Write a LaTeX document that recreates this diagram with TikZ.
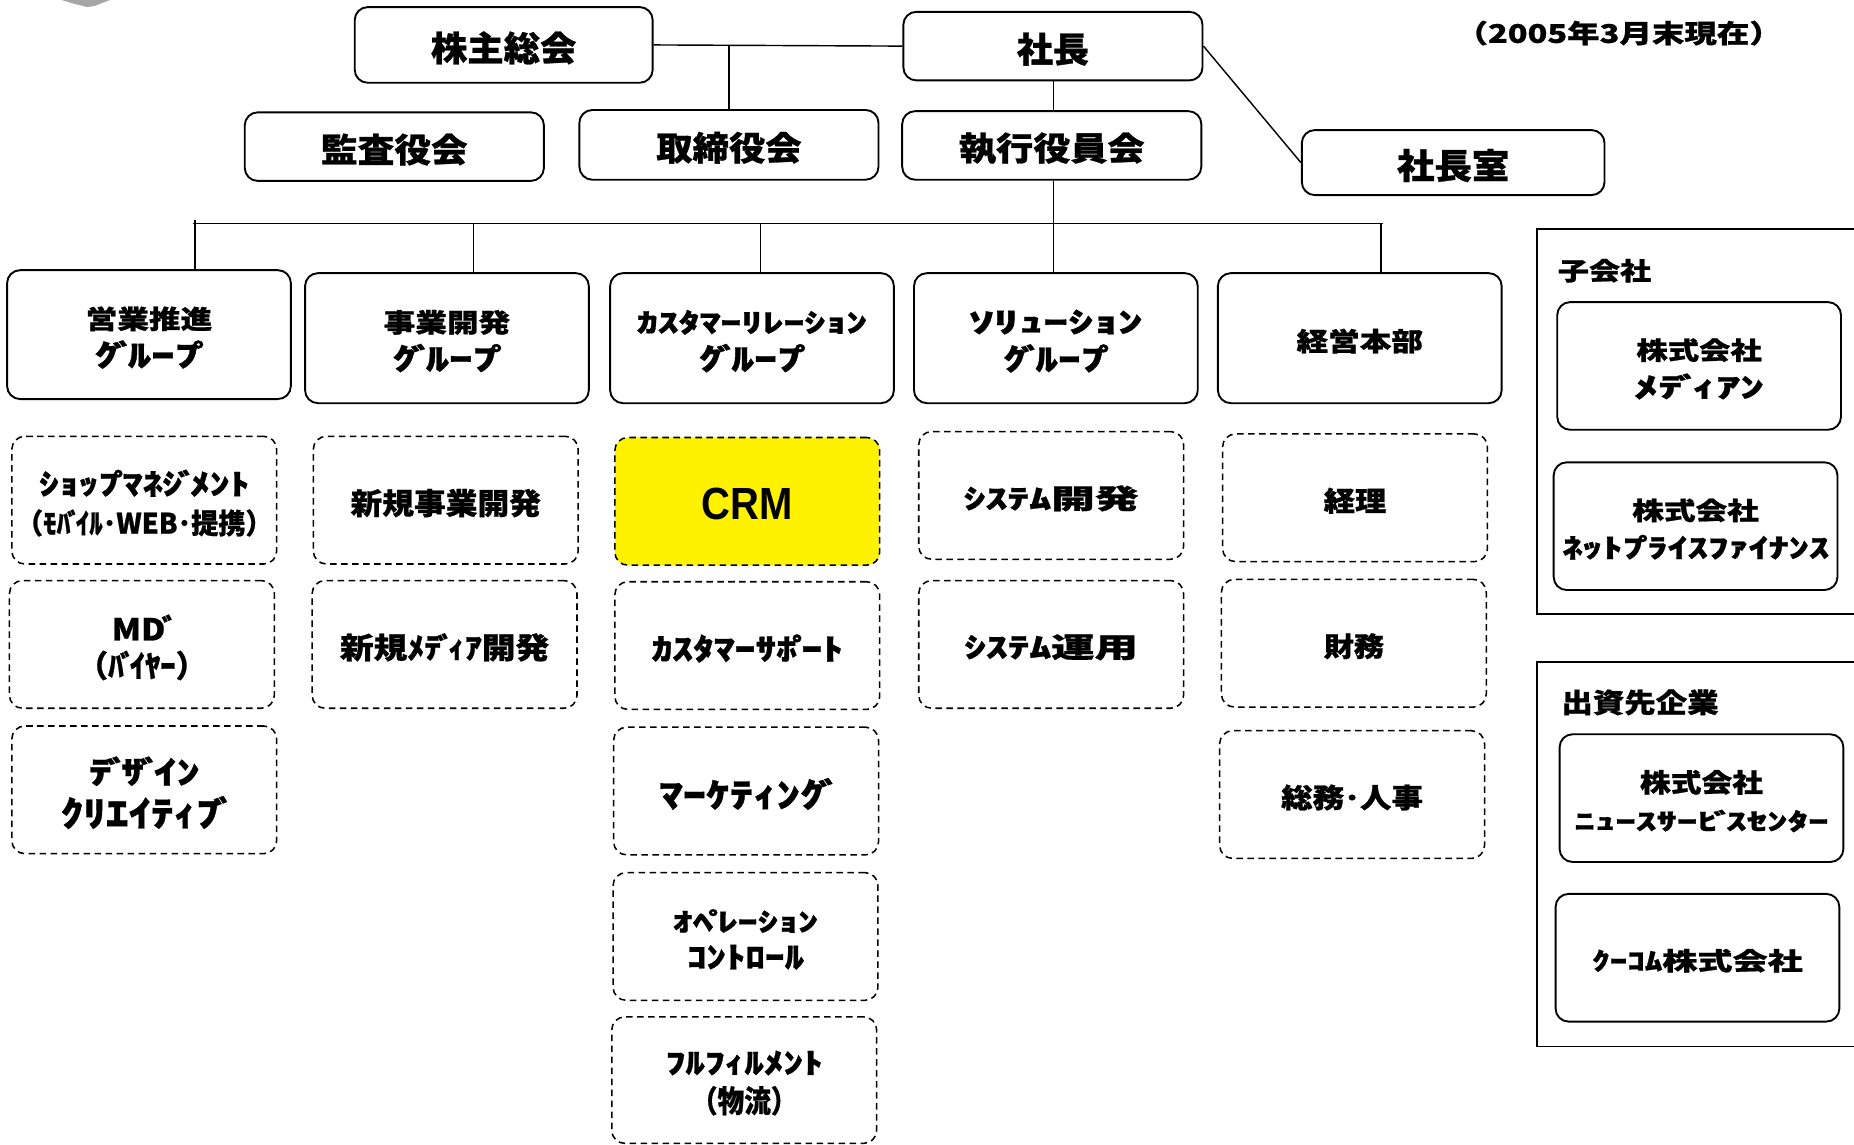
\documentclass[tikz,border=0pt]{standalone}
\usepackage{fontspec}
\usepackage{graphicx}
\newfontfamily\jpfont{Noto Sans CJK JP}[BoldFeatures={FakeBold=0.8}]
\newfontfamily\arialfont{Liberation Sans}
\newcommand\fitt[3]{\raisebox{-2.5pt}[\height][\depth]{\resizebox*{#1pt}{#2pt}{#3}}}
\newcommand\dk{\kern-.12em ﾞ\kern-.18em\relax}
\newcommand\hd{\kern-.12em ﾟ\kern-.27em\relax}
\tikzset{
  lsp/.style={font=\jpfont\bfseries\fontsize{20}{#1}\selectfont},
  solidbox/.style={draw, line width=1.6pt, rounded corners=11pt, inner sep=0pt, align=center, lsp=32},
  topbox/.style={solidbox, minimum width=253pt, minimum height=58pt},
  grpbox/.style={solidbox, minimum width=240pt, minimum height=110pt},
  rbox/.style={solidbox, minimum width=240pt, minimum height=108pt},
  dbox/.style={draw, line width=1.3pt, dash pattern=on 5.5pt off 3.8pt, rounded corners=11pt, inner sep=0pt, align=center, minimum width=224pt, minimum height=108pt, lsp=32},
  framebox/.style={draw, line width=1.5pt, inner sep=0pt, minimum width=280pt, minimum height=325pt},
  txt/.style={inner sep=0pt, align=center, lsp=32},
  conn/.style={line width=1.2pt},
  barline/.style={line width=1.6pt}
}
\begin{document}
\begin{tikzpicture}[x=1pt, y=-1pt]
\useasboundingbox (0,0) rectangle (1568,968);
% small gray artifact at top left
\fill[gray!70] (52,0) -- (93,0) -- (80,5) -- (74,6) -- (62,3) -- cycle;

% top level
\node[topbox, minimum width=252pt, minimum height=64pt] (kabu) at (426,38) {\fitt{123}{28}{株主総会}};
\node[topbox] (shacho) at (890.5,39) {\fitt{61}{28}{社長}};
\node[topbox] (kansa) at (333.5,124) {\fitt{124}{27}{監査役会}};
\node[topbox, minimum height=59pt] (torishimari) at (616.5,122.5) {\fitt{123}{27}{取締役会}};
\node[topbox] (shikko) at (889.5,123) {\fitt{157}{27}{執行役員会}};
\node[topbox, minimum width=256pt, minimum height=55pt] (shitsu) at (1229,137.5) {\fitt{95}{28}{社長室}};
\node[txt] (date) at (1369,25.5) {\fitt{276}{21}{（2005年3月末現在）}};

% groups
\node[grpbox, minimum height=109pt] (g1) at (126,283) {\fitt{107}{21}{営業推進}\\\fitt{92}{24}{ｸ\dk ﾙｰﾌ\hd}};
\node[grpbox] (g2) at (378,286) {\fitt{107}{21}{事業開発}\\\fitt{92}{24}{ｸ\dk ﾙｰﾌ\hd}};
\node[grpbox] (g3) at (636,286) {\fitt{195}{21}{ｶｽﾀﾏｰﾘﾚｰｼｮﾝ}\\\fitt{90}{24}{ｸ\dk ﾙｰﾌ\hd}};
\node[grpbox] (g4) at (893,286) {\fitt{147}{21}{ｿﾘｭｰｼｮﾝ}\\\fitt{89}{24}{ｸ\dk ﾙｰﾌ\hd}};
\node[grpbox] (g5) at (1150,286) {\fitt{107}{21}{経営本部}};

% connectors top
\draw[conn] (kabu.east) -- (shacho.west);
\coordinate (j1) at (torishimari.north |- kabu.east);
\draw[conn] (j1) -- (torishimari.north);
\coordinate (vx) at (891,189);
\draw[conn] (vx |- shacho.south) -- (vx |- shikko.north);
\draw[conn] (shacho.east) -- (shitsu.west);
\coordinate (barL) at (163,189);
\coordinate (barR) at (1170,189);
\draw[barline] (barL) -- (barR);
\draw[conn] (vx |- shikko.south) -- (vx);
\coordinate (v1) at (165,186);
\coordinate (v2) at (400.5,189);
\coordinate (v3) at (643,189);
\coordinate (v5) at (1168,189);
\draw[conn] (v1) -- (v1 |- g1.north);
\draw[conn] (v2) -- (v2 |- g2.north);
\draw[conn] (v3) -- (v3 |- g3.north);
\draw[conn] (vx) -- (vx |- g4.north);
\draw[conn] (v5) -- (v5 |- g5.north);

% dashed column 1
\node[dbox, lsp=33] (d11) at (122,423) {\fitt{178}{23}{ｼｮｯﾌ\hd ﾏﾈｼ\dk ﾒﾝﾄ}\\\fitt{217}{23}{（ﾓﾊ\dk ｲﾙ･WEB･提携）}};
\node[dbox, lsp=31] (d12) at (120,545) {\fitt{51}{22}{MD\dk}\\\fitt{109}{25}{（ﾊ\dk ｲﾔｰ）}};
\node[dbox, lsp=36] (d13) at (122,668) {\fitt{94}{25}{ﾃ\dk ｻ\dk ｲﾝ}\\\fitt{141}{28}{ｸﾘｴｲﾃｨﾌ\dk}};
% column 2
\node[dbox] (d21) at (377,423) {\fitt{161}{24}{新規事業開発}};
\node[dbox] (d22) at (376,545) {\fitt{177}{24}{新規ﾒﾃ\dk ｨｱ開発}};
% column 3
\node[dbox, fill=yellow] (crm) at (632,424) {\arialfont\bfseries\fitt{77}{27}{CRM}};
\node[dbox] (d32) at (632,546) {\fitt{162}{24}{ｶｽﾀﾏｰｻﾎ\hd ｰﾄ}};
\node[dbox] (d33) at (631,669) {\fitt{147}{27}{ﾏｰｹﾃｨﾝｸ\dk}};
\node[dbox, lsp=31] (d34) at (630.5,792) {\fitt{123}{20}{ｵﾍ\hd ﾚｰｼｮﾝ}\\\fitt{99}{21}{ｺﾝﾄﾛｰﾙ}};
\node[dbox, lsp=33, minimum height=107pt] (d35) at (629.4,913.5) {\fitt{133}{21}{ﾌﾙﾌｨﾙﾒﾝﾄ}\\\fitt{90}{25}{（物流）}};
% column 4
\node[dbox] (d41) at (889,419) {\fitt{148}{22}{ｼｽﾃﾑ開発}};
\node[dbox] (d42) at (889,545) {\fitt{147}{22}{ｼｽﾃﾑ運用}};
% column 5
\node[dbox] (d51) at (1146,421) {\fitt{53}{22}{経理}};
\node[dbox] (d52) at (1145,544) {\fitt{51}{22}{財務}};
\node[dbox] (d53) at (1143.5,672) {\fitt{120}{22}{総務･人事}};

% subsidiaries
\node[framebox] (fr1) at (1440,356.5) {};
\node[txt] (fr1l) at (1357,226.5) {\fitt{79}{20}{子会社}};
\node[rbox] (m1) at (1437,309.5) {\fitt{106}{20}{株式会社}\\\fitt{110}{22}{ﾒﾃ\dk ｨｱﾝ}};
\node[rbox] (m2) at (1434,445) {\fitt{107}{20}{株式会社}\\\fitt{226}{21}{ﾈｯﾄﾌ\hd ﾗｲｽﾌｧｲﾅﾝｽ}};
% investees
\node[framebox] (fr2) at (1440,722.5) {};
\node[txt] (fr2l) at (1387,591.5) {\fitt{133}{22}{出資先企業}};
\node[rbox] (m3) at (1439,675) {\fitt{104}{21}{株式会社}\\\fitt{215}{19}{ﾆｭｰｽｻｰﾋ\dk ｽｾﾝﾀｰ}};
\node[rbox] (m4) at (1435.6,810) {\fitt{178}{20}{ｸｰｺﾑ株式会社}};
\end{tikzpicture}
\end{document}
